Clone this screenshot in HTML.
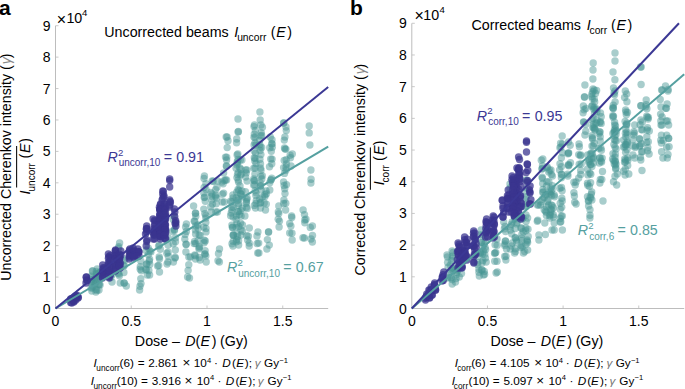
<!DOCTYPE html><html><head><meta charset="utf-8"><style>
html,body{margin:0;padding:0;background:#fff;width:685px;height:389px;overflow:hidden}
svg{display:block}
text{font-family:"Liberation Sans", sans-serif}
.t{font-size:14px}
.s{font-size:10px}
.f{font-size:11px}
.i{font-style:italic}
.bold{font-weight:bold;font-size:22px}
</style></head><body>
<svg width="685" height="389" viewBox="0 0 685 389" fill="#000">
<path d="M55.5 25.8V308.5H328.2" fill="none" stroke="#bdbdbd" stroke-width="1"/>
<path d="M55.5 308.50h3M55.5 277.08h3M55.5 245.66h3M55.5 214.24h3M55.5 182.82h3M55.5 151.40h3M55.5 119.98h3M55.5 88.56h3M55.5 57.14h3M55.5 25.72h3M131.25 308.5v-3M207.00 308.5v-3M282.75 308.5v-3" fill="none" stroke="#bdbdbd" stroke-width="0.8"/>
<text x="50.5" y="313.50" text-anchor="end" class="t">0</text>
<text x="50.5" y="282.08" text-anchor="end" class="t">1</text>
<text x="50.5" y="250.66" text-anchor="end" class="t">2</text>
<text x="50.5" y="219.24" text-anchor="end" class="t">3</text>
<text x="50.5" y="187.82" text-anchor="end" class="t">4</text>
<text x="50.5" y="156.40" text-anchor="end" class="t">5</text>
<text x="50.5" y="124.98" text-anchor="end" class="t">6</text>
<text x="50.5" y="93.56" text-anchor="end" class="t">7</text>
<text x="50.5" y="62.14" text-anchor="end" class="t">8</text>
<text x="50.5" y="30.72" text-anchor="end" class="t">9</text>
<text x="55.50" y="325.6" text-anchor="middle" class="t">0</text>
<text x="131.25" y="325.6" text-anchor="middle" class="t">0.5</text>
<text x="207.00" y="325.6" text-anchor="middle" class="t">1</text>
<text x="282.75" y="325.6" text-anchor="middle" class="t">1.5</text>
<path d="M411.8 23.4V308.5H684.2" fill="none" stroke="#bdbdbd" stroke-width="1"/>
<path d="M411.8 308.50h3M411.8 276.81h3M411.8 245.12h3M411.8 213.43h3M411.8 181.74h3M411.8 150.05h3M411.8 118.36h3M411.8 86.67h3M411.8 54.98h3M411.8 23.29h3M487.45 308.5v-3M563.10 308.5v-3M638.75 308.5v-3" fill="none" stroke="#bdbdbd" stroke-width="0.8"/>
<text x="406.8" y="313.50" text-anchor="end" class="t">0</text>
<text x="406.8" y="281.81" text-anchor="end" class="t">1</text>
<text x="406.8" y="250.12" text-anchor="end" class="t">2</text>
<text x="406.8" y="218.43" text-anchor="end" class="t">3</text>
<text x="406.8" y="186.74" text-anchor="end" class="t">4</text>
<text x="406.8" y="155.05" text-anchor="end" class="t">5</text>
<text x="406.8" y="123.36" text-anchor="end" class="t">6</text>
<text x="406.8" y="91.67" text-anchor="end" class="t">7</text>
<text x="406.8" y="59.98" text-anchor="end" class="t">8</text>
<text x="406.8" y="28.29" text-anchor="end" class="t">9</text>
<text x="411.80" y="325.6" text-anchor="middle" class="t">0</text>
<text x="487.45" y="325.6" text-anchor="middle" class="t">0.5</text>
<text x="563.10" y="325.6" text-anchor="middle" class="t">1</text>
<text x="638.75" y="325.6" text-anchor="middle" class="t">1.5</text>
<g fill="#469492" fill-opacity="0.47"><circle cx="92.4" cy="271.0" r="3.7"/><circle cx="91.8" cy="291.0" r="3.7"/><circle cx="92.7" cy="271.0" r="3.7"/><circle cx="91.1" cy="276.1" r="3.7"/><circle cx="91.3" cy="277.8" r="3.7"/><circle cx="93.0" cy="281.3" r="3.7"/><circle cx="91.7" cy="279.8" r="3.7"/><circle cx="91.4" cy="281.7" r="3.7"/><circle cx="92.7" cy="286.2" r="3.7"/><circle cx="92.3" cy="287.8" r="3.7"/><circle cx="91.2" cy="288.0" r="3.7"/><circle cx="97.2" cy="269.0" r="3.7"/><circle cx="95.9" cy="292.0" r="3.7"/><circle cx="96.3" cy="271.4" r="3.7"/><circle cx="96.9" cy="274.1" r="3.7"/><circle cx="96.4" cy="273.5" r="3.7"/><circle cx="95.1" cy="278.2" r="3.7"/><circle cx="96.2" cy="277.4" r="3.7"/><circle cx="96.3" cy="280.7" r="3.7"/><circle cx="95.2" cy="281.4" r="3.7"/><circle cx="95.0" cy="284.1" r="3.7"/><circle cx="96.9" cy="290.4" r="3.7"/><circle cx="96.0" cy="289.4" r="3.7"/><circle cx="100.8" cy="272.0" r="3.7"/><circle cx="99.0" cy="290.0" r="3.7"/><circle cx="99.5" cy="272.5" r="3.7"/><circle cx="98.9" cy="276.8" r="3.7"/><circle cx="100.6" cy="277.8" r="3.7"/><circle cx="99.1" cy="284.3" r="3.7"/><circle cx="100.1" cy="284.9" r="3.7"/><circle cx="99.0" cy="284.8" r="3.7"/><circle cx="111.9" cy="262.0" r="3.7"/><circle cx="112.0" cy="282.0" r="3.7"/><circle cx="111.8" cy="266.7" r="3.7"/><circle cx="112.3" cy="274.4" r="3.7"/><circle cx="110.8" cy="277.5" r="3.7"/><circle cx="119.6" cy="243.0" r="3.7"/><circle cx="120.3" cy="283.0" r="3.7"/><circle cx="118.8" cy="246.7" r="3.7"/><circle cx="118.5" cy="248.3" r="3.7"/><circle cx="119.2" cy="258.8" r="3.7"/><circle cx="120.3" cy="263.6" r="3.7"/><circle cx="118.3" cy="258.5" r="3.7"/><circle cx="118.4" cy="263.3" r="3.7"/><circle cx="118.1" cy="273.1" r="3.7"/><circle cx="119.4" cy="275.7" r="3.7"/><circle cx="118.9" cy="274.0" r="3.7"/><circle cx="124.3" cy="259.0" r="3.7"/><circle cx="126.3" cy="286.0" r="3.7"/><circle cx="124.6" cy="260.4" r="3.7"/><circle cx="124.3" cy="265.6" r="3.7"/><circle cx="123.6" cy="265.9" r="3.7"/><circle cx="123.9" cy="272.5" r="3.7"/><circle cx="124.1" cy="283.1" r="3.7"/><circle cx="124.2" cy="283.0" r="3.7"/><circle cx="140.8" cy="261.0" r="3.7"/><circle cx="139.6" cy="290.0" r="3.7"/><circle cx="140.2" cy="269.2" r="3.7"/><circle cx="140.3" cy="266.7" r="3.7"/><circle cx="141.3" cy="270.7" r="3.7"/><circle cx="140.8" cy="278.7" r="3.7"/><circle cx="140.0" cy="286.2" r="3.7"/><circle cx="141.0" cy="283.6" r="3.7"/><circle cx="148.2" cy="248.0" r="3.7"/><circle cx="147.3" cy="275.0" r="3.7"/><circle cx="146.2" cy="250.5" r="3.7"/><circle cx="148.3" cy="254.6" r="3.7"/><circle cx="146.9" cy="264.2" r="3.7"/><circle cx="146.5" cy="263.9" r="3.7"/><circle cx="146.3" cy="270.0" r="3.7"/><circle cx="145.8" cy="269.3" r="3.7"/><circle cx="150.1" cy="251.0" r="3.7"/><circle cx="149.6" cy="275.0" r="3.7"/><circle cx="150.9" cy="251.9" r="3.7"/><circle cx="149.3" cy="261.0" r="3.7"/><circle cx="149.6" cy="259.3" r="3.7"/><circle cx="149.8" cy="264.5" r="3.7"/><circle cx="148.9" cy="270.5" r="3.7"/><circle cx="159.4" cy="245.0" r="3.7"/><circle cx="159.5" cy="272.0" r="3.7"/><circle cx="158.6" cy="246.1" r="3.7"/><circle cx="160.3" cy="249.2" r="3.7"/><circle cx="159.5" cy="258.8" r="3.7"/><circle cx="159.2" cy="256.9" r="3.7"/><circle cx="157.6" cy="266.0" r="3.7"/><circle cx="158.7" cy="265.4" r="3.7"/><circle cx="168.3" cy="238.0" r="3.7"/><circle cx="167.1" cy="264.0" r="3.7"/><circle cx="165.8" cy="239.5" r="3.7"/><circle cx="168.1" cy="245.1" r="3.7"/><circle cx="166.8" cy="253.3" r="3.7"/><circle cx="168.4" cy="256.4" r="3.7"/><circle cx="168.1" cy="252.3" r="3.7"/><circle cx="168.0" cy="262.0" r="3.7"/><circle cx="174.1" cy="216.0" r="3.7"/><circle cx="173.4" cy="262.0" r="3.7"/><circle cx="175.4" cy="224.1" r="3.7"/><circle cx="173.2" cy="219.4" r="3.7"/><circle cx="174.5" cy="230.4" r="3.7"/><circle cx="174.4" cy="229.4" r="3.7"/><circle cx="172.5" cy="231.5" r="3.7"/><circle cx="175.5" cy="237.8" r="3.7"/><circle cx="173.2" cy="243.7" r="3.7"/><circle cx="175.5" cy="241.7" r="3.7"/><circle cx="175.3" cy="250.0" r="3.7"/><circle cx="175.2" cy="257.2" r="3.7"/><circle cx="175.1" cy="258.1" r="3.7"/><circle cx="186.4" cy="224.0" r="3.7"/><circle cx="185.9" cy="252.0" r="3.7"/><circle cx="185.6" cy="226.9" r="3.7"/><circle cx="186.4" cy="231.4" r="3.7"/><circle cx="185.1" cy="234.4" r="3.7"/><circle cx="186.0" cy="244.5" r="3.7"/><circle cx="184.8" cy="239.1" r="3.7"/><circle cx="186.2" cy="244.2" r="3.7"/><circle cx="188.8" cy="257.0" r="3.7"/><circle cx="189.5" cy="278.0" r="3.7"/><circle cx="190.4" cy="257.0" r="3.7"/><circle cx="188.8" cy="264.7" r="3.7"/><circle cx="188.1" cy="270.4" r="3.7"/><circle cx="187.6" cy="277.0" r="3.7"/><circle cx="193.6" cy="206.0" r="3.7"/><circle cx="195.5" cy="259.0" r="3.7"/><circle cx="195.6" cy="213.3" r="3.7"/><circle cx="195.4" cy="213.3" r="3.7"/><circle cx="195.8" cy="216.3" r="3.7"/><circle cx="194.8" cy="221.3" r="3.7"/><circle cx="194.2" cy="221.2" r="3.7"/><circle cx="195.7" cy="226.0" r="3.7"/><circle cx="195.4" cy="229.9" r="3.7"/><circle cx="195.6" cy="233.9" r="3.7"/><circle cx="194.1" cy="243.6" r="3.7"/><circle cx="194.6" cy="241.4" r="3.7"/><circle cx="195.6" cy="243.6" r="3.7"/><circle cx="194.7" cy="255.0" r="3.7"/><circle cx="195.3" cy="255.8" r="3.7"/><circle cx="197.9" cy="225.0" r="3.7"/><circle cx="200.1" cy="260.0" r="3.7"/><circle cx="198.3" cy="228.6" r="3.7"/><circle cx="200.2" cy="235.4" r="3.7"/><circle cx="199.1" cy="235.1" r="3.7"/><circle cx="198.0" cy="240.5" r="3.7"/><circle cx="199.1" cy="247.8" r="3.7"/><circle cx="199.5" cy="246.4" r="3.7"/><circle cx="199.0" cy="248.9" r="3.7"/><circle cx="199.4" cy="257.5" r="3.7"/><circle cx="204.4" cy="176.0" r="3.7"/><circle cx="206.2" cy="262.0" r="3.7"/><circle cx="204.0" cy="178.4" r="3.7"/><circle cx="204.1" cy="187.4" r="3.7"/><circle cx="205.9" cy="183.7" r="3.7"/><circle cx="203.8" cy="193.1" r="3.7"/><circle cx="206.0" cy="189.5" r="3.7"/><circle cx="204.2" cy="197.6" r="3.7"/><circle cx="204.7" cy="197.0" r="3.7"/><circle cx="205.3" cy="201.2" r="3.7"/><circle cx="203.8" cy="209.1" r="3.7"/><circle cx="205.8" cy="215.6" r="3.7"/><circle cx="204.8" cy="213.6" r="3.7"/><circle cx="205.8" cy="218.1" r="3.7"/><circle cx="205.8" cy="222.4" r="3.7"/><circle cx="203.7" cy="227.1" r="3.7"/><circle cx="206.0" cy="228.4" r="3.7"/><circle cx="206.0" cy="231.9" r="3.7"/><circle cx="204.2" cy="240.2" r="3.7"/><circle cx="205.3" cy="241.0" r="3.7"/><circle cx="204.1" cy="242.7" r="3.7"/><circle cx="205.1" cy="250.6" r="3.7"/><circle cx="205.8" cy="255.9" r="3.7"/><circle cx="204.6" cy="254.2" r="3.7"/><circle cx="205.1" cy="253.9" r="3.7"/><circle cx="212.2" cy="181.0" r="3.7"/><circle cx="211.2" cy="212.0" r="3.7"/><circle cx="213.2" cy="181.2" r="3.7"/><circle cx="210.8" cy="192.4" r="3.7"/><circle cx="211.9" cy="193.9" r="3.7"/><circle cx="211.9" cy="199.8" r="3.7"/><circle cx="211.7" cy="196.2" r="3.7"/><circle cx="210.7" cy="206.7" r="3.7"/><circle cx="212.5" cy="204.0" r="3.7"/><circle cx="217.8" cy="181.0" r="3.7"/><circle cx="217.4" cy="212.0" r="3.7"/><circle cx="215.6" cy="189.6" r="3.7"/><circle cx="216.9" cy="187.3" r="3.7"/><circle cx="215.5" cy="196.6" r="3.7"/><circle cx="215.7" cy="194.9" r="3.7"/><circle cx="216.6" cy="198.1" r="3.7"/><circle cx="216.2" cy="203.8" r="3.7"/><circle cx="215.8" cy="212.0" r="3.7"/><circle cx="219.5" cy="249.0" r="3.7"/><circle cx="219.4" cy="262.0" r="3.7"/><circle cx="218.5" cy="253.5" r="3.7"/><circle cx="218.0" cy="260.8" r="3.7"/><circle cx="223.6" cy="173.0" r="3.7"/><circle cx="224.3" cy="202.0" r="3.7"/><circle cx="222.0" cy="182.1" r="3.7"/><circle cx="224.3" cy="180.5" r="3.7"/><circle cx="223.1" cy="183.7" r="3.7"/><circle cx="223.6" cy="193.1" r="3.7"/><circle cx="222.4" cy="194.3" r="3.7"/><circle cx="222.2" cy="202.0" r="3.7"/><circle cx="226.6" cy="160.0" r="3.7"/><circle cx="226.3" cy="166.0" r="3.7"/><circle cx="232.9" cy="195.0" r="3.7"/><circle cx="232.9" cy="246.0" r="3.7"/><circle cx="230.5" cy="201.2" r="3.7"/><circle cx="233.0" cy="197.9" r="3.7"/><circle cx="231.8" cy="201.6" r="3.7"/><circle cx="232.0" cy="207.3" r="3.7"/><circle cx="233.3" cy="207.0" r="3.7"/><circle cx="231.9" cy="209.9" r="3.7"/><circle cx="231.2" cy="213.0" r="3.7"/><circle cx="230.6" cy="215.7" r="3.7"/><circle cx="233.2" cy="216.9" r="3.7"/><circle cx="231.9" cy="225.1" r="3.7"/><circle cx="232.6" cy="227.3" r="3.7"/><circle cx="232.4" cy="227.6" r="3.7"/><circle cx="233.4" cy="234.8" r="3.7"/><circle cx="233.3" cy="235.1" r="3.7"/><circle cx="233.3" cy="235.4" r="3.7"/><circle cx="232.0" cy="243.8" r="3.7"/><circle cx="233.2" cy="241.2" r="3.7"/><circle cx="236.7" cy="139.0" r="3.7"/><circle cx="237.8" cy="154.0" r="3.7"/><circle cx="236.6" cy="142.7" r="3.7"/><circle cx="237.1" cy="155.0" r="3.7"/><circle cx="238.6" cy="245.0" r="3.7"/><circle cx="237.4" cy="161.5" r="3.7"/><circle cx="238.2" cy="159.5" r="3.7"/><circle cx="237.2" cy="163.1" r="3.7"/><circle cx="237.1" cy="165.0" r="3.7"/><circle cx="236.1" cy="168.2" r="3.7"/><circle cx="238.2" cy="172.7" r="3.7"/><circle cx="236.9" cy="177.6" r="3.7"/><circle cx="237.5" cy="174.6" r="3.7"/><circle cx="238.2" cy="179.9" r="3.7"/><circle cx="238.5" cy="182.1" r="3.7"/><circle cx="238.8" cy="190.4" r="3.7"/><circle cx="238.0" cy="189.4" r="3.7"/><circle cx="236.7" cy="192.3" r="3.7"/><circle cx="238.8" cy="198.9" r="3.7"/><circle cx="236.2" cy="197.7" r="3.7"/><circle cx="237.2" cy="200.6" r="3.7"/><circle cx="238.8" cy="203.6" r="3.7"/><circle cx="238.5" cy="205.3" r="3.7"/><circle cx="237.8" cy="211.7" r="3.7"/><circle cx="238.6" cy="211.5" r="3.7"/><circle cx="236.5" cy="216.0" r="3.7"/><circle cx="236.1" cy="219.4" r="3.7"/><circle cx="236.9" cy="223.8" r="3.7"/><circle cx="238.8" cy="226.5" r="3.7"/><circle cx="236.1" cy="227.4" r="3.7"/><circle cx="237.0" cy="233.9" r="3.7"/><circle cx="237.5" cy="236.8" r="3.7"/><circle cx="236.6" cy="239.6" r="3.7"/><circle cx="238.6" cy="240.8" r="3.7"/><circle cx="236.3" cy="241.8" r="3.7"/><circle cx="226.2" cy="137.0" r="3.7"/><circle cx="226.6" cy="180.0" r="3.7"/><circle cx="227.1" cy="137.0" r="3.7"/><circle cx="226.7" cy="157.2" r="3.7"/><circle cx="227.2" cy="147.6" r="3.7"/><circle cx="225.5" cy="157.1" r="3.7"/><circle cx="226.6" cy="166.3" r="3.7"/><circle cx="225.5" cy="179.9" r="3.7"/><circle cx="238.0" cy="119.0" r="3.7"/><circle cx="238.1" cy="132.0" r="3.7"/><circle cx="238.4" cy="131.5" r="3.7"/><circle cx="228.0" cy="140.8" r="3.7"/><circle cx="241.9" cy="160.0" r="3.7"/><circle cx="241.0" cy="235.0" r="3.7"/><circle cx="240.3" cy="160.0" r="3.7"/><circle cx="240.9" cy="169.3" r="3.7"/><circle cx="239.6" cy="167.8" r="3.7"/><circle cx="241.5" cy="174.0" r="3.7"/><circle cx="240.5" cy="175.0" r="3.7"/><circle cx="240.0" cy="186.0" r="3.7"/><circle cx="241.9" cy="191.0" r="3.7"/><circle cx="241.1" cy="194.3" r="3.7"/><circle cx="240.4" cy="193.7" r="3.7"/><circle cx="242.3" cy="196.9" r="3.7"/><circle cx="242.3" cy="208.2" r="3.7"/><circle cx="240.8" cy="210.6" r="3.7"/><circle cx="241.1" cy="216.1" r="3.7"/><circle cx="239.5" cy="214.4" r="3.7"/><circle cx="240.6" cy="223.1" r="3.7"/><circle cx="242.5" cy="225.0" r="3.7"/><circle cx="241.0" cy="230.0" r="3.7"/><circle cx="242.5" cy="231.2" r="3.7"/><circle cx="245.7" cy="170.0" r="3.7"/><circle cx="244.9" cy="216.0" r="3.7"/><circle cx="246.9" cy="170.0" r="3.7"/><circle cx="246.1" cy="172.9" r="3.7"/><circle cx="245.6" cy="177.1" r="3.7"/><circle cx="247.1" cy="181.1" r="3.7"/><circle cx="245.4" cy="191.7" r="3.7"/><circle cx="247.1" cy="197.9" r="3.7"/><circle cx="246.7" cy="199.4" r="3.7"/><circle cx="246.4" cy="201.7" r="3.7"/><circle cx="246.3" cy="203.3" r="3.7"/><circle cx="246.4" cy="207.2" r="3.7"/><circle cx="247.2" cy="208.5" r="3.7"/><circle cx="249.3" cy="228.0" r="3.7"/><circle cx="249.2" cy="246.0" r="3.7"/><circle cx="248.4" cy="236.2" r="3.7"/><circle cx="246.8" cy="235.7" r="3.7"/><circle cx="249.2" cy="243.1" r="3.7"/><circle cx="247.6" cy="240.0" r="3.7"/><circle cx="254.5" cy="125.0" r="3.7"/><circle cx="255.5" cy="208.0" r="3.7"/><circle cx="254.0" cy="126.6" r="3.7"/><circle cx="254.3" cy="134.1" r="3.7"/><circle cx="255.4" cy="130.5" r="3.7"/><circle cx="255.1" cy="137.5" r="3.7"/><circle cx="254.0" cy="137.3" r="3.7"/><circle cx="254.1" cy="144.9" r="3.7"/><circle cx="255.0" cy="142.9" r="3.7"/><circle cx="256.1" cy="145.0" r="3.7"/><circle cx="254.1" cy="150.7" r="3.7"/><circle cx="255.6" cy="153.3" r="3.7"/><circle cx="255.1" cy="158.4" r="3.7"/><circle cx="254.3" cy="157.7" r="3.7"/><circle cx="254.7" cy="160.7" r="3.7"/><circle cx="256.0" cy="163.5" r="3.7"/><circle cx="253.8" cy="168.3" r="3.7"/><circle cx="255.1" cy="168.1" r="3.7"/><circle cx="254.9" cy="174.1" r="3.7"/><circle cx="253.8" cy="178.9" r="3.7"/><circle cx="254.7" cy="180.8" r="3.7"/><circle cx="254.0" cy="180.4" r="3.7"/><circle cx="254.7" cy="185.0" r="3.7"/><circle cx="253.6" cy="184.9" r="3.7"/><circle cx="255.2" cy="190.6" r="3.7"/><circle cx="255.9" cy="195.6" r="3.7"/><circle cx="256.1" cy="192.8" r="3.7"/><circle cx="256.3" cy="200.5" r="3.7"/><circle cx="254.3" cy="205.4" r="3.7"/><circle cx="255.9" cy="203.5" r="3.7"/><circle cx="259.9" cy="112.0" r="3.7"/><circle cx="260.2" cy="120.0" r="3.7"/><circle cx="257.9" cy="232.0" r="3.7"/><circle cx="258.9" cy="253.0" r="3.7"/><circle cx="257.0" cy="235.9" r="3.7"/><circle cx="258.7" cy="243.1" r="3.7"/><circle cx="257.1" cy="243.5" r="3.7"/><circle cx="257.7" cy="253.0" r="3.7"/><circle cx="260.9" cy="125.0" r="3.7"/><circle cx="260.5" cy="208.0" r="3.7"/><circle cx="262.4" cy="127.2" r="3.7"/><circle cx="261.2" cy="132.8" r="3.7"/><circle cx="261.6" cy="135.2" r="3.7"/><circle cx="260.8" cy="135.9" r="3.7"/><circle cx="259.8" cy="144.6" r="3.7"/><circle cx="259.8" cy="140.3" r="3.7"/><circle cx="260.2" cy="147.2" r="3.7"/><circle cx="261.7" cy="147.5" r="3.7"/><circle cx="260.1" cy="150.5" r="3.7"/><circle cx="260.9" cy="154.6" r="3.7"/><circle cx="260.5" cy="163.8" r="3.7"/><circle cx="259.9" cy="159.3" r="3.7"/><circle cx="260.6" cy="168.3" r="3.7"/><circle cx="261.0" cy="170.3" r="3.7"/><circle cx="262.3" cy="175.7" r="3.7"/><circle cx="261.8" cy="179.0" r="3.7"/><circle cx="260.8" cy="176.1" r="3.7"/><circle cx="260.4" cy="186.0" r="3.7"/><circle cx="260.2" cy="182.7" r="3.7"/><circle cx="260.6" cy="185.7" r="3.7"/><circle cx="261.1" cy="189.9" r="3.7"/><circle cx="262.4" cy="196.9" r="3.7"/><circle cx="259.7" cy="199.0" r="3.7"/><circle cx="260.1" cy="203.2" r="3.7"/><circle cx="260.7" cy="202.4" r="3.7"/><circle cx="266.0" cy="191.0" r="3.7"/><circle cx="265.5" cy="210.0" r="3.7"/><circle cx="264.9" cy="194.7" r="3.7"/><circle cx="266.5" cy="193.8" r="3.7"/><circle cx="265.0" cy="196.6" r="3.7"/><circle cx="266.3" cy="204.1" r="3.7"/><circle cx="264.2" cy="202.9" r="3.7"/><circle cx="268.5" cy="232.0" r="3.7"/><circle cx="266.9" cy="249.0" r="3.7"/><circle cx="268.6" cy="232.0" r="3.7"/><circle cx="267.4" cy="239.6" r="3.7"/><circle cx="269.3" cy="245.1" r="3.7"/><circle cx="270.3" cy="137.0" r="3.7"/><circle cx="269.8" cy="190.0" r="3.7"/><circle cx="271.9" cy="143.7" r="3.7"/><circle cx="272.3" cy="147.3" r="3.7"/><circle cx="271.9" cy="143.9" r="3.7"/><circle cx="269.7" cy="147.8" r="3.7"/><circle cx="271.3" cy="151.3" r="3.7"/><circle cx="272.1" cy="159.1" r="3.7"/><circle cx="270.7" cy="158.9" r="3.7"/><circle cx="271.8" cy="163.8" r="3.7"/><circle cx="269.5" cy="166.7" r="3.7"/><circle cx="271.1" cy="179.7" r="3.7"/><circle cx="271.7" cy="178.3" r="3.7"/><circle cx="270.8" cy="180.1" r="3.7"/><circle cx="269.8" cy="182.8" r="3.7"/><circle cx="272.0" cy="139.8" r="3.7"/><circle cx="278.8" cy="206.0" r="3.7"/><circle cx="279.1" cy="227.0" r="3.7"/><circle cx="278.8" cy="213.6" r="3.7"/><circle cx="278.3" cy="212.0" r="3.7"/><circle cx="279.5" cy="221.1" r="3.7"/><circle cx="278.2" cy="219.2" r="3.7"/><circle cx="283.7" cy="123.0" r="3.7"/><circle cx="285.6" cy="210.0" r="3.7"/><circle cx="283.8" cy="123.0" r="3.7"/><circle cx="286.0" cy="127.0" r="3.7"/><circle cx="286.3" cy="130.6" r="3.7"/><circle cx="284.3" cy="140.1" r="3.7"/><circle cx="284.9" cy="137.0" r="3.7"/><circle cx="285.9" cy="149.1" r="3.7"/><circle cx="285.0" cy="149.1" r="3.7"/><circle cx="284.5" cy="147.9" r="3.7"/><circle cx="286.2" cy="159.8" r="3.7"/><circle cx="286.5" cy="163.9" r="3.7"/><circle cx="284.2" cy="160.4" r="3.7"/><circle cx="286.0" cy="167.1" r="3.7"/><circle cx="283.6" cy="167.6" r="3.7"/><circle cx="286.0" cy="170.3" r="3.7"/><circle cx="284.5" cy="173.4" r="3.7"/><circle cx="286.5" cy="184.6" r="3.7"/><circle cx="283.6" cy="182.0" r="3.7"/><circle cx="284.1" cy="185.5" r="3.7"/><circle cx="284.7" cy="188.8" r="3.7"/><circle cx="285.0" cy="193.5" r="3.7"/><circle cx="285.8" cy="203.3" r="3.7"/><circle cx="283.9" cy="200.0" r="3.7"/><circle cx="283.7" cy="203.4" r="3.7"/><circle cx="292.3" cy="154.0" r="3.7"/><circle cx="291.0" cy="166.0" r="3.7"/><circle cx="290.1" cy="155.3" r="3.7"/><circle cx="290.5" cy="157.8" r="3.7"/><circle cx="291.6" cy="216.0" r="3.7"/><circle cx="292.2" cy="240.0" r="3.7"/><circle cx="291.8" cy="217.5" r="3.7"/><circle cx="289.7" cy="223.5" r="3.7"/><circle cx="290.9" cy="226.1" r="3.7"/><circle cx="292.0" cy="233.3" r="3.7"/><circle cx="289.7" cy="233.0" r="3.7"/><circle cx="303.1" cy="210.0" r="3.7"/><circle cx="304.4" cy="238.0" r="3.7"/><circle cx="304.8" cy="220.0" r="3.7"/><circle cx="304.5" cy="214.6" r="3.7"/><circle cx="306.0" cy="219.2" r="3.7"/><circle cx="304.8" cy="222.7" r="3.7"/><circle cx="303.0" cy="237.7" r="3.7"/><circle cx="309.2" cy="126.0" r="3.7"/><circle cx="309.9" cy="145.0" r="3.7"/><circle cx="309.2" cy="132.9" r="3.7"/><circle cx="310.9" cy="170.0" r="3.7"/><circle cx="310.9" cy="183.0" r="3.7"/><circle cx="311.1" cy="179.3" r="3.7"/><circle cx="312.4" cy="226.0" r="3.7"/><circle cx="312.4" cy="242.0" r="3.7"/><circle cx="310.3" cy="227.4" r="3.7"/><circle cx="312.5" cy="235.5" r="3.7"/><circle cx="311.0" cy="239.0" r="3.7"/></g>
<g fill="#3a358f" fill-opacity="0.74"><circle cx="71.2" cy="299.0" r="3.7"/><circle cx="71.7" cy="303.0" r="3.7"/><circle cx="70.6" cy="299.0" r="3.7"/><circle cx="70.6" cy="302.4" r="3.7"/><circle cx="73.2" cy="298.0" r="3.7"/><circle cx="73.8" cy="302.0" r="3.7"/><circle cx="73.3" cy="300.1" r="3.7"/><circle cx="73.9" cy="301.2" r="3.7"/><circle cx="76.6" cy="296.0" r="3.7"/><circle cx="75.8" cy="300.0" r="3.7"/><circle cx="75.6" cy="296.0" r="3.7"/><circle cx="76.5" cy="297.7" r="3.7"/><circle cx="77.4" cy="295.5" r="3.7"/><circle cx="78.1" cy="298.0" r="3.7"/><circle cx="78.3" cy="297.2" r="3.7"/><circle cx="86.4" cy="277.0" r="3.7"/><circle cx="86.0" cy="283.0" r="3.7"/><circle cx="86.2" cy="277.2" r="3.7"/><circle cx="87.5" cy="280.6" r="3.7"/><circle cx="86.5" cy="280.0" r="3.7"/><circle cx="102.7" cy="265.0" r="3.7"/><circle cx="102.5" cy="278.0" r="3.7"/><circle cx="104.0" cy="268.3" r="3.7"/><circle cx="103.3" cy="267.7" r="3.7"/><circle cx="102.7" cy="269.7" r="3.7"/><circle cx="103.2" cy="272.2" r="3.7"/><circle cx="102.7" cy="272.9" r="3.7"/><circle cx="103.9" cy="272.2" r="3.7"/><circle cx="103.3" cy="275.4" r="3.7"/><circle cx="102.5" cy="277.1" r="3.7"/><circle cx="108.4" cy="254.0" r="3.7"/><circle cx="109.3" cy="278.0" r="3.7"/><circle cx="108.8" cy="256.7" r="3.7"/><circle cx="110.3" cy="255.4" r="3.7"/><circle cx="110.5" cy="257.6" r="3.7"/><circle cx="108.4" cy="258.2" r="3.7"/><circle cx="108.5" cy="262.4" r="3.7"/><circle cx="109.9" cy="261.5" r="3.7"/><circle cx="109.6" cy="264.6" r="3.7"/><circle cx="108.2" cy="264.4" r="3.7"/><circle cx="109.9" cy="267.4" r="3.7"/><circle cx="110.5" cy="269.7" r="3.7"/><circle cx="109.2" cy="270.6" r="3.7"/><circle cx="109.0" cy="271.8" r="3.7"/><circle cx="109.6" cy="273.4" r="3.7"/><circle cx="110.5" cy="274.8" r="3.7"/><circle cx="108.8" cy="276.9" r="3.7"/><circle cx="115.5" cy="250.0" r="3.7"/><circle cx="115.1" cy="271.0" r="3.7"/><circle cx="115.3" cy="250.7" r="3.7"/><circle cx="115.4" cy="251.8" r="3.7"/><circle cx="115.5" cy="255.0" r="3.7"/><circle cx="116.7" cy="255.9" r="3.7"/><circle cx="115.5" cy="256.5" r="3.7"/><circle cx="115.5" cy="258.6" r="3.7"/><circle cx="116.2" cy="258.7" r="3.7"/><circle cx="116.8" cy="261.3" r="3.7"/><circle cx="115.6" cy="265.4" r="3.7"/><circle cx="116.5" cy="265.3" r="3.7"/><circle cx="115.7" cy="265.7" r="3.7"/><circle cx="116.1" cy="269.7" r="3.7"/><circle cx="116.2" cy="268.9" r="3.7"/><circle cx="120.8" cy="251.0" r="3.7"/><circle cx="120.2" cy="268.0" r="3.7"/><circle cx="119.5" cy="254.3" r="3.7"/><circle cx="120.9" cy="255.1" r="3.7"/><circle cx="119.9" cy="255.7" r="3.7"/><circle cx="119.7" cy="258.6" r="3.7"/><circle cx="119.5" cy="258.2" r="3.7"/><circle cx="119.2" cy="259.8" r="3.7"/><circle cx="119.4" cy="263.7" r="3.7"/><circle cx="120.4" cy="263.5" r="3.7"/><circle cx="119.3" cy="266.0" r="3.7"/><circle cx="119.5" cy="265.7" r="3.7"/><circle cx="129.9" cy="249.0" r="3.7"/><circle cx="129.3" cy="259.0" r="3.7"/><circle cx="129.4" cy="250.2" r="3.7"/><circle cx="129.3" cy="252.0" r="3.7"/><circle cx="130.5" cy="252.8" r="3.7"/><circle cx="129.3" cy="255.8" r="3.7"/><circle cx="130.3" cy="255.2" r="3.7"/><circle cx="129.4" cy="257.1" r="3.7"/><circle cx="133.1" cy="248.0" r="3.7"/><circle cx="133.8" cy="258.0" r="3.7"/><circle cx="133.5" cy="250.0" r="3.7"/><circle cx="133.9" cy="251.4" r="3.7"/><circle cx="134.9" cy="251.7" r="3.7"/><circle cx="134.7" cy="255.3" r="3.7"/><circle cx="133.1" cy="255.7" r="3.7"/><circle cx="134.4" cy="256.8" r="3.7"/><circle cx="137.9" cy="249.0" r="3.7"/><circle cx="139.0" cy="256.0" r="3.7"/><circle cx="138.7" cy="252.0" r="3.7"/><circle cx="138.7" cy="252.0" r="3.7"/><circle cx="138.9" cy="251.7" r="3.7"/><circle cx="137.1" cy="255.9" r="3.7"/><circle cx="146.7" cy="226.0" r="3.7"/><circle cx="145.5" cy="234.0" r="3.7"/><circle cx="146.4" cy="228.8" r="3.7"/><circle cx="147.1" cy="228.4" r="3.7"/><circle cx="146.5" cy="229.3" r="3.7"/><circle cx="146.6" cy="231.9" r="3.7"/><circle cx="147.0" cy="240.0" r="3.7"/><circle cx="146.2" cy="246.0" r="3.7"/><circle cx="146.7" cy="241.4" r="3.7"/><circle cx="153.1" cy="219.0" r="3.7"/><circle cx="153.3" cy="239.0" r="3.7"/><circle cx="154.9" cy="221.1" r="3.7"/><circle cx="154.6" cy="220.1" r="3.7"/><circle cx="154.4" cy="225.6" r="3.7"/><circle cx="154.9" cy="224.1" r="3.7"/><circle cx="154.0" cy="228.6" r="3.7"/><circle cx="154.7" cy="229.9" r="3.7"/><circle cx="153.9" cy="231.4" r="3.7"/><circle cx="154.8" cy="232.7" r="3.7"/><circle cx="153.1" cy="232.4" r="3.7"/><circle cx="153.9" cy="234.2" r="3.7"/><circle cx="154.2" cy="235.3" r="3.7"/><circle cx="154.6" cy="239.0" r="3.7"/><circle cx="160.5" cy="204.0" r="3.7"/><circle cx="160.3" cy="239.0" r="3.7"/><circle cx="160.4" cy="205.0" r="3.7"/><circle cx="159.4" cy="207.2" r="3.7"/><circle cx="159.7" cy="209.5" r="3.7"/><circle cx="160.4" cy="208.9" r="3.7"/><circle cx="159.8" cy="209.5" r="3.7"/><circle cx="160.2" cy="210.2" r="3.7"/><circle cx="159.9" cy="214.3" r="3.7"/><circle cx="160.5" cy="214.3" r="3.7"/><circle cx="159.7" cy="215.3" r="3.7"/><circle cx="160.0" cy="217.0" r="3.7"/><circle cx="160.7" cy="217.0" r="3.7"/><circle cx="159.6" cy="218.6" r="3.7"/><circle cx="159.4" cy="220.0" r="3.7"/><circle cx="160.3" cy="221.3" r="3.7"/><circle cx="159.3" cy="224.7" r="3.7"/><circle cx="160.7" cy="223.9" r="3.7"/><circle cx="159.5" cy="224.7" r="3.7"/><circle cx="160.8" cy="228.6" r="3.7"/><circle cx="160.1" cy="228.8" r="3.7"/><circle cx="159.3" cy="228.3" r="3.7"/><circle cx="160.0" cy="231.8" r="3.7"/><circle cx="160.4" cy="233.1" r="3.7"/><circle cx="160.0" cy="234.3" r="3.7"/><circle cx="160.3" cy="236.0" r="3.7"/><circle cx="159.7" cy="236.2" r="3.7"/><circle cx="160.9" cy="236.8" r="3.7"/><circle cx="164.2" cy="204.0" r="3.7"/><circle cx="165.7" cy="239.0" r="3.7"/><circle cx="164.5" cy="204.2" r="3.7"/><circle cx="164.8" cy="207.6" r="3.7"/><circle cx="165.2" cy="206.3" r="3.7"/><circle cx="164.2" cy="209.2" r="3.7"/><circle cx="165.5" cy="209.0" r="3.7"/><circle cx="164.9" cy="210.5" r="3.7"/><circle cx="165.5" cy="213.4" r="3.7"/><circle cx="165.5" cy="215.7" r="3.7"/><circle cx="164.2" cy="215.0" r="3.7"/><circle cx="165.6" cy="216.6" r="3.7"/><circle cx="165.6" cy="218.2" r="3.7"/><circle cx="164.5" cy="219.9" r="3.7"/><circle cx="165.2" cy="220.3" r="3.7"/><circle cx="164.4" cy="221.6" r="3.7"/><circle cx="165.1" cy="224.6" r="3.7"/><circle cx="165.5" cy="224.9" r="3.7"/><circle cx="164.8" cy="225.5" r="3.7"/><circle cx="165.1" cy="228.4" r="3.7"/><circle cx="164.3" cy="230.3" r="3.7"/><circle cx="165.7" cy="229.7" r="3.7"/><circle cx="165.3" cy="229.6" r="3.7"/><circle cx="165.7" cy="231.9" r="3.7"/><circle cx="164.2" cy="235.2" r="3.7"/><circle cx="165.5" cy="234.0" r="3.7"/><circle cx="164.2" cy="235.4" r="3.7"/><circle cx="165.1" cy="238.7" r="3.7"/><circle cx="162.8" cy="191.0" r="3.7"/><circle cx="162.1" cy="200.0" r="3.7"/><circle cx="163.3" cy="191.4" r="3.7"/><circle cx="163.9" cy="195.6" r="3.7"/><circle cx="162.7" cy="194.0" r="3.7"/><circle cx="163.8" cy="196.9" r="3.7"/><circle cx="162.7" cy="198.4" r="3.7"/><circle cx="169.7" cy="179.0" r="3.7"/><circle cx="169.7" cy="187.0" r="3.7"/><circle cx="169.7" cy="180.6" r="3.7"/><circle cx="169.6" cy="200.0" r="3.7"/><circle cx="169.7" cy="207.0" r="3.7"/><circle cx="170.4" cy="202.4" r="3.7"/><circle cx="170.1" cy="201.4" r="3.7"/><circle cx="169.8" cy="205.0" r="3.7"/><circle cx="174.4" cy="209.0" r="3.7"/><circle cx="175.9" cy="226.0" r="3.7"/><circle cx="174.8" cy="211.9" r="3.7"/><circle cx="174.7" cy="216.7" r="3.7"/><circle cx="175.6" cy="220.6" r="3.7"/><circle cx="175.1" cy="223.4" r="3.7"/><circle cx="175.9" cy="222.6" r="3.7"/></g>
<g fill="#469492" fill-opacity="0.47"><circle cx="452.1" cy="251.0" r="3.7"/><circle cx="452.2" cy="284.0" r="3.7"/><circle cx="452.3" cy="256.1" r="3.7"/><circle cx="451.3" cy="260.5" r="3.7"/><circle cx="452.6" cy="258.2" r="3.7"/><circle cx="453.0" cy="268.5" r="3.7"/><circle cx="450.3" cy="264.9" r="3.7"/><circle cx="451.6" cy="272.3" r="3.7"/><circle cx="452.9" cy="270.6" r="3.7"/><circle cx="452.2" cy="279.6" r="3.7"/><circle cx="451.3" cy="277.7" r="3.7"/><circle cx="447.0" cy="255.0" r="3.7"/><circle cx="447.5" cy="278.0" r="3.7"/><circle cx="447.4" cy="256.9" r="3.7"/><circle cx="448.1" cy="267.2" r="3.7"/><circle cx="447.6" cy="262.4" r="3.7"/><circle cx="449.2" cy="272.9" r="3.7"/><circle cx="449.3" cy="277.6" r="3.7"/><circle cx="453.8" cy="268.0" r="3.7"/><circle cx="455.5" cy="282.0" r="3.7"/><circle cx="455.9" cy="269.8" r="3.7"/><circle cx="456.0" cy="278.6" r="3.7"/><circle cx="456.5" cy="274.6" r="3.7"/><circle cx="458.7" cy="264.0" r="3.7"/><circle cx="459.3" cy="277.0" r="3.7"/><circle cx="456.8" cy="272.4" r="3.7"/><circle cx="458.0" cy="270.0" r="3.7"/><circle cx="453.0" cy="252.5" r="3.7"/><circle cx="461.5" cy="273.5" r="3.7"/><circle cx="480.0" cy="253.0" r="3.7"/><circle cx="479.3" cy="276.0" r="3.7"/><circle cx="478.6" cy="256.6" r="3.7"/><circle cx="477.7" cy="262.4" r="3.7"/><circle cx="478.9" cy="269.2" r="3.7"/><circle cx="477.8" cy="264.7" r="3.7"/><circle cx="478.9" cy="272.2" r="3.7"/><circle cx="481.2" cy="230.0" r="3.7"/><circle cx="481.6" cy="270.0" r="3.7"/><circle cx="480.7" cy="234.6" r="3.7"/><circle cx="481.9" cy="235.7" r="3.7"/><circle cx="481.4" cy="242.6" r="3.7"/><circle cx="481.8" cy="242.5" r="3.7"/><circle cx="482.8" cy="246.4" r="3.7"/><circle cx="480.6" cy="252.9" r="3.7"/><circle cx="483.5" cy="251.2" r="3.7"/><circle cx="482.6" cy="253.9" r="3.7"/><circle cx="482.9" cy="260.6" r="3.7"/><circle cx="482.1" cy="262.8" r="3.7"/><circle cx="482.2" cy="269.9" r="3.7"/><circle cx="485.4" cy="241.0" r="3.7"/><circle cx="483.6" cy="275.0" r="3.7"/><circle cx="484.3" cy="243.9" r="3.7"/><circle cx="485.1" cy="247.5" r="3.7"/><circle cx="485.6" cy="249.6" r="3.7"/><circle cx="484.8" cy="254.2" r="3.7"/><circle cx="485.4" cy="257.9" r="3.7"/><circle cx="486.2" cy="262.1" r="3.7"/><circle cx="484.3" cy="271.4" r="3.7"/><circle cx="484.6" cy="274.2" r="3.7"/><circle cx="497.0" cy="239.0" r="3.7"/><circle cx="496.1" cy="273.0" r="3.7"/><circle cx="497.2" cy="245.3" r="3.7"/><circle cx="495.1" cy="244.8" r="3.7"/><circle cx="495.8" cy="252.5" r="3.7"/><circle cx="495.0" cy="253.1" r="3.7"/><circle cx="494.6" cy="253.2" r="3.7"/><circle cx="497.0" cy="261.3" r="3.7"/><circle cx="494.7" cy="261.2" r="3.7"/><circle cx="497.3" cy="272.0" r="3.7"/><circle cx="503.7" cy="222.0" r="3.7"/><circle cx="505.9" cy="260.0" r="3.7"/><circle cx="505.0" cy="226.4" r="3.7"/><circle cx="505.6" cy="231.6" r="3.7"/><circle cx="504.3" cy="228.9" r="3.7"/><circle cx="505.5" cy="241.2" r="3.7"/><circle cx="504.9" cy="243.9" r="3.7"/><circle cx="505.4" cy="240.9" r="3.7"/><circle cx="504.7" cy="245.5" r="3.7"/><circle cx="506.5" cy="248.9" r="3.7"/><circle cx="506.0" cy="256.2" r="3.7"/><circle cx="504.7" cy="256.5" r="3.7"/><circle cx="512.1" cy="222.0" r="3.7"/><circle cx="510.2" cy="249.0" r="3.7"/><circle cx="511.4" cy="224.3" r="3.7"/><circle cx="510.2" cy="226.6" r="3.7"/><circle cx="510.4" cy="230.1" r="3.7"/><circle cx="511.7" cy="233.7" r="3.7"/><circle cx="511.3" cy="246.0" r="3.7"/><circle cx="512.3" cy="243.0" r="3.7"/><circle cx="515.0" cy="218.0" r="3.7"/><circle cx="514.6" cy="253.0" r="3.7"/><circle cx="515.0" cy="219.0" r="3.7"/><circle cx="517.0" cy="222.5" r="3.7"/><circle cx="516.7" cy="223.9" r="3.7"/><circle cx="515.2" cy="228.4" r="3.7"/><circle cx="515.2" cy="237.9" r="3.7"/><circle cx="515.4" cy="237.6" r="3.7"/><circle cx="516.5" cy="240.1" r="3.7"/><circle cx="516.7" cy="242.1" r="3.7"/><circle cx="515.2" cy="248.8" r="3.7"/><circle cx="515.5" cy="251.4" r="3.7"/><circle cx="523.0" cy="218.0" r="3.7"/><circle cx="523.4" cy="253.0" r="3.7"/><circle cx="522.0" cy="219.0" r="3.7"/><circle cx="521.5" cy="228.1" r="3.7"/><circle cx="520.8" cy="228.0" r="3.7"/><circle cx="521.8" cy="234.4" r="3.7"/><circle cx="523.3" cy="231.8" r="3.7"/><circle cx="521.6" cy="238.2" r="3.7"/><circle cx="521.8" cy="240.8" r="3.7"/><circle cx="522.2" cy="247.0" r="3.7"/><circle cx="521.2" cy="245.5" r="3.7"/><circle cx="520.8" cy="247.6" r="3.7"/><circle cx="527.6" cy="218.0" r="3.7"/><circle cx="527.6" cy="250.0" r="3.7"/><circle cx="526.1" cy="221.4" r="3.7"/><circle cx="525.9" cy="228.3" r="3.7"/><circle cx="525.8" cy="230.7" r="3.7"/><circle cx="528.0" cy="229.2" r="3.7"/><circle cx="528.2" cy="236.4" r="3.7"/><circle cx="527.1" cy="240.0" r="3.7"/><circle cx="527.3" cy="241.1" r="3.7"/><circle cx="527.6" cy="242.4" r="3.7"/><circle cx="526.0" cy="244.3" r="3.7"/><circle cx="524.7" cy="251.5" r="3.7"/><circle cx="510.0" cy="184.0" r="3.7"/><circle cx="510.0" cy="188.0" r="3.7"/><circle cx="526.0" cy="180.0" r="3.7"/><circle cx="526.0" cy="215.0" r="3.7"/><circle cx="526.9" cy="180.5" r="3.7"/><circle cx="526.0" cy="191.3" r="3.7"/><circle cx="526.8" cy="188.0" r="3.7"/><circle cx="526.5" cy="196.7" r="3.7"/><circle cx="526.7" cy="203.4" r="3.7"/><circle cx="525.7" cy="199.0" r="3.7"/><circle cx="525.2" cy="207.1" r="3.7"/><circle cx="526.3" cy="206.1" r="3.7"/><circle cx="538.5" cy="205.0" r="3.7"/><circle cx="538.9" cy="240.0" r="3.7"/><circle cx="537.4" cy="205.0" r="3.7"/><circle cx="537.3" cy="221.3" r="3.7"/><circle cx="537.8" cy="220.2" r="3.7"/><circle cx="538.9" cy="234.9" r="3.7"/><circle cx="542.8" cy="159.0" r="3.7"/><circle cx="540.5" cy="205.0" r="3.7"/><circle cx="541.3" cy="160.3" r="3.7"/><circle cx="542.5" cy="165.8" r="3.7"/><circle cx="542.2" cy="168.5" r="3.7"/><circle cx="542.0" cy="169.1" r="3.7"/><circle cx="542.1" cy="177.1" r="3.7"/><circle cx="542.4" cy="178.5" r="3.7"/><circle cx="542.7" cy="183.5" r="3.7"/><circle cx="543.0" cy="189.5" r="3.7"/><circle cx="542.8" cy="192.4" r="3.7"/><circle cx="543.2" cy="192.0" r="3.7"/><circle cx="542.2" cy="199.3" r="3.7"/><circle cx="541.0" cy="201.8" r="3.7"/><circle cx="545.5" cy="195.0" r="3.7"/><circle cx="544.8" cy="223.0" r="3.7"/><circle cx="544.1" cy="197.6" r="3.7"/><circle cx="546.4" cy="206.8" r="3.7"/><circle cx="544.2" cy="209.8" r="3.7"/><circle cx="546.3" cy="212.2" r="3.7"/><circle cx="545.4" cy="211.1" r="3.7"/><circle cx="546.4" cy="215.5" r="3.7"/><circle cx="545.4" cy="234.5" r="3.7"/><circle cx="547.3" cy="167.0" r="3.7"/><circle cx="548.7" cy="205.0" r="3.7"/><circle cx="546.9" cy="167.8" r="3.7"/><circle cx="548.7" cy="171.9" r="3.7"/><circle cx="548.9" cy="182.0" r="3.7"/><circle cx="546.9" cy="181.6" r="3.7"/><circle cx="546.5" cy="186.0" r="3.7"/><circle cx="549.2" cy="192.2" r="3.7"/><circle cx="547.1" cy="194.6" r="3.7"/><circle cx="548.1" cy="199.6" r="3.7"/><circle cx="547.4" cy="201.4" r="3.7"/><circle cx="551.0" cy="170.0" r="3.7"/><circle cx="549.8" cy="218.0" r="3.7"/><circle cx="549.6" cy="170.2" r="3.7"/><circle cx="551.4" cy="174.4" r="3.7"/><circle cx="552.4" cy="176.1" r="3.7"/><circle cx="552.4" cy="185.7" r="3.7"/><circle cx="550.8" cy="188.2" r="3.7"/><circle cx="551.1" cy="191.6" r="3.7"/><circle cx="552.1" cy="189.5" r="3.7"/><circle cx="550.3" cy="194.1" r="3.7"/><circle cx="551.7" cy="195.5" r="3.7"/><circle cx="551.3" cy="204.9" r="3.7"/><circle cx="550.8" cy="209.2" r="3.7"/><circle cx="550.7" cy="212.1" r="3.7"/><circle cx="550.0" cy="214.5" r="3.7"/><circle cx="549.9" cy="215.7" r="3.7"/><circle cx="554.2" cy="195.0" r="3.7"/><circle cx="554.2" cy="230.0" r="3.7"/><circle cx="554.5" cy="196.8" r="3.7"/><circle cx="553.4" cy="207.7" r="3.7"/><circle cx="551.6" cy="209.9" r="3.7"/><circle cx="552.3" cy="205.6" r="3.7"/><circle cx="553.5" cy="217.0" r="3.7"/><circle cx="553.3" cy="214.7" r="3.7"/><circle cx="554.2" cy="223.0" r="3.7"/><circle cx="552.0" cy="230.0" r="3.7"/><circle cx="562.2" cy="136.0" r="3.7"/><circle cx="562.4" cy="230.0" r="3.7"/><circle cx="560.6" cy="143.2" r="3.7"/><circle cx="562.3" cy="144.0" r="3.7"/><circle cx="559.9" cy="147.7" r="3.7"/><circle cx="560.9" cy="146.9" r="3.7"/><circle cx="562.5" cy="152.7" r="3.7"/><circle cx="561.4" cy="157.8" r="3.7"/><circle cx="560.0" cy="163.7" r="3.7"/><circle cx="561.4" cy="166.6" r="3.7"/><circle cx="559.6" cy="169.9" r="3.7"/><circle cx="561.7" cy="174.1" r="3.7"/><circle cx="561.3" cy="174.4" r="3.7"/><circle cx="561.4" cy="177.8" r="3.7"/><circle cx="561.5" cy="187.5" r="3.7"/><circle cx="559.8" cy="188.2" r="3.7"/><circle cx="562.1" cy="190.8" r="3.7"/><circle cx="561.8" cy="198.2" r="3.7"/><circle cx="562.2" cy="200.9" r="3.7"/><circle cx="560.2" cy="203.2" r="3.7"/><circle cx="560.2" cy="209.2" r="3.7"/><circle cx="561.7" cy="207.2" r="3.7"/><circle cx="562.3" cy="215.9" r="3.7"/><circle cx="561.2" cy="216.3" r="3.7"/><circle cx="560.2" cy="218.5" r="3.7"/><circle cx="560.8" cy="221.8" r="3.7"/><circle cx="560.2" cy="222.1" r="3.7"/><circle cx="568.5" cy="142.0" r="3.7"/><circle cx="567.9" cy="176.0" r="3.7"/><circle cx="570.2" cy="145.3" r="3.7"/><circle cx="568.7" cy="152.9" r="3.7"/><circle cx="568.0" cy="153.8" r="3.7"/><circle cx="568.4" cy="153.0" r="3.7"/><circle cx="570.5" cy="162.7" r="3.7"/><circle cx="568.6" cy="165.7" r="3.7"/><circle cx="568.9" cy="164.9" r="3.7"/><circle cx="568.3" cy="164.8" r="3.7"/><circle cx="567.7" cy="174.1" r="3.7"/><circle cx="576.0" cy="182.0" r="3.7"/><circle cx="576.1" cy="204.0" r="3.7"/><circle cx="573.9" cy="182.2" r="3.7"/><circle cx="575.2" cy="185.1" r="3.7"/><circle cx="573.9" cy="192.6" r="3.7"/><circle cx="574.4" cy="196.0" r="3.7"/><circle cx="574.7" cy="202.3" r="3.7"/><circle cx="579.0" cy="144.0" r="3.7"/><circle cx="578.7" cy="178.0" r="3.7"/><circle cx="579.4" cy="146.7" r="3.7"/><circle cx="580.8" cy="154.9" r="3.7"/><circle cx="578.7" cy="154.6" r="3.7"/><circle cx="580.3" cy="155.8" r="3.7"/><circle cx="581.2" cy="163.9" r="3.7"/><circle cx="579.2" cy="164.3" r="3.7"/><circle cx="580.7" cy="174.4" r="3.7"/><circle cx="580.7" cy="170.4" r="3.7"/><circle cx="584.9" cy="85.0" r="3.7"/><circle cx="584.6" cy="97.0" r="3.7"/><circle cx="584.4" cy="97.0" r="3.7"/><circle cx="583.4" cy="106.0" r="3.7"/><circle cx="584.9" cy="135.0" r="3.7"/><circle cx="585.9" cy="108.4" r="3.7"/><circle cx="584.1" cy="109.7" r="3.7"/><circle cx="583.1" cy="112.7" r="3.7"/><circle cx="583.5" cy="121.9" r="3.7"/><circle cx="583.9" cy="122.1" r="3.7"/><circle cx="585.7" cy="124.5" r="3.7"/><circle cx="585.8" cy="131.2" r="3.7"/><circle cx="587.6" cy="155.0" r="3.7"/><circle cx="589.9" cy="218.0" r="3.7"/><circle cx="589.3" cy="159.7" r="3.7"/><circle cx="589.2" cy="161.4" r="3.7"/><circle cx="588.6" cy="162.2" r="3.7"/><circle cx="589.8" cy="173.1" r="3.7"/><circle cx="587.6" cy="168.9" r="3.7"/><circle cx="588.0" cy="174.9" r="3.7"/><circle cx="587.5" cy="183.2" r="3.7"/><circle cx="589.4" cy="186.5" r="3.7"/><circle cx="587.7" cy="185.3" r="3.7"/><circle cx="587.5" cy="196.8" r="3.7"/><circle cx="590.1" cy="197.2" r="3.7"/><circle cx="588.4" cy="201.3" r="3.7"/><circle cx="588.6" cy="200.6" r="3.7"/><circle cx="590.0" cy="209.7" r="3.7"/><circle cx="588.6" cy="206.0" r="3.7"/><circle cx="590.0" cy="215.3" r="3.7"/><circle cx="590.3" cy="154.0" r="3.7"/><circle cx="591.9" cy="200.0" r="3.7"/><circle cx="590.9" cy="164.5" r="3.7"/><circle cx="591.6" cy="158.5" r="3.7"/><circle cx="590.4" cy="164.6" r="3.7"/><circle cx="591.9" cy="166.6" r="3.7"/><circle cx="590.8" cy="174.2" r="3.7"/><circle cx="590.6" cy="182.7" r="3.7"/><circle cx="591.7" cy="192.0" r="3.7"/><circle cx="591.3" cy="194.3" r="3.7"/><circle cx="590.8" cy="198.0" r="3.7"/><circle cx="593.2" cy="63.0" r="3.7"/><circle cx="592.9" cy="79.0" r="3.7"/><circle cx="593.0" cy="70.0" r="3.7"/><circle cx="593.0" cy="89.0" r="3.7"/><circle cx="593.3" cy="163.0" r="3.7"/><circle cx="592.8" cy="91.8" r="3.7"/><circle cx="591.9" cy="93.9" r="3.7"/><circle cx="591.7" cy="96.4" r="3.7"/><circle cx="592.4" cy="98.6" r="3.7"/><circle cx="592.4" cy="105.4" r="3.7"/><circle cx="594.1" cy="107.2" r="3.7"/><circle cx="591.7" cy="106.5" r="3.7"/><circle cx="593.7" cy="109.3" r="3.7"/><circle cx="594.4" cy="113.8" r="3.7"/><circle cx="593.1" cy="118.2" r="3.7"/><circle cx="592.0" cy="120.3" r="3.7"/><circle cx="593.3" cy="124.2" r="3.7"/><circle cx="594.3" cy="127.5" r="3.7"/><circle cx="592.7" cy="127.3" r="3.7"/><circle cx="593.7" cy="128.5" r="3.7"/><circle cx="592.1" cy="135.7" r="3.7"/><circle cx="592.3" cy="137.7" r="3.7"/><circle cx="592.6" cy="139.0" r="3.7"/><circle cx="593.3" cy="145.9" r="3.7"/><circle cx="594.3" cy="143.3" r="3.7"/><circle cx="592.0" cy="145.9" r="3.7"/><circle cx="591.6" cy="152.6" r="3.7"/><circle cx="592.3" cy="153.6" r="3.7"/><circle cx="593.4" cy="158.4" r="3.7"/><circle cx="593.5" cy="157.1" r="3.7"/><circle cx="600.5" cy="113.0" r="3.7"/><circle cx="599.3" cy="163.0" r="3.7"/><circle cx="601.2" cy="116.7" r="3.7"/><circle cx="600.4" cy="121.6" r="3.7"/><circle cx="599.9" cy="122.8" r="3.7"/><circle cx="601.2" cy="123.4" r="3.7"/><circle cx="599.2" cy="133.6" r="3.7"/><circle cx="599.4" cy="131.6" r="3.7"/><circle cx="600.2" cy="132.1" r="3.7"/><circle cx="600.2" cy="136.8" r="3.7"/><circle cx="600.2" cy="140.9" r="3.7"/><circle cx="598.8" cy="148.2" r="3.7"/><circle cx="600.8" cy="147.9" r="3.7"/><circle cx="601.4" cy="150.2" r="3.7"/><circle cx="599.6" cy="158.0" r="3.7"/><circle cx="601.0" cy="161.0" r="3.7"/><circle cx="600.2" cy="158.0" r="3.7"/><circle cx="599.9" cy="183.0" r="3.7"/><circle cx="602.2" cy="158.1" r="3.7"/><circle cx="601.6" cy="162.1" r="3.7"/><circle cx="602.5" cy="171.5" r="3.7"/><circle cx="600.3" cy="179.4" r="3.7"/><circle cx="601.8" cy="179.5" r="3.7"/><circle cx="594.2" cy="90.0" r="3.7"/><circle cx="594.9" cy="130.0" r="3.7"/><circle cx="596.6" cy="90.5" r="3.7"/><circle cx="595.5" cy="93.4" r="3.7"/><circle cx="594.3" cy="99.1" r="3.7"/><circle cx="594.7" cy="102.0" r="3.7"/><circle cx="596.7" cy="109.0" r="3.7"/><circle cx="595.2" cy="109.4" r="3.7"/><circle cx="597.0" cy="111.8" r="3.7"/><circle cx="596.9" cy="120.0" r="3.7"/><circle cx="595.8" cy="123.1" r="3.7"/><circle cx="596.6" cy="122.9" r="3.7"/><circle cx="595.1" cy="129.1" r="3.7"/><circle cx="615.0" cy="53.0" r="3.7"/><circle cx="615.0" cy="61.0" r="3.7"/><circle cx="613.0" cy="72.0" r="3.7"/><circle cx="613.5" cy="88.0" r="3.7"/><circle cx="614.9" cy="79.8" r="3.7"/><circle cx="615.0" cy="91.0" r="3.7"/><circle cx="615.1" cy="165.0" r="3.7"/><circle cx="614.6" cy="94.8" r="3.7"/><circle cx="614.0" cy="93.3" r="3.7"/><circle cx="615.1" cy="102.0" r="3.7"/><circle cx="613.3" cy="105.2" r="3.7"/><circle cx="613.3" cy="108.6" r="3.7"/><circle cx="612.9" cy="107.6" r="3.7"/><circle cx="613.1" cy="108.3" r="3.7"/><circle cx="612.8" cy="115.8" r="3.7"/><circle cx="613.1" cy="117.3" r="3.7"/><circle cx="613.5" cy="116.1" r="3.7"/><circle cx="614.6" cy="122.3" r="3.7"/><circle cx="615.5" cy="126.0" r="3.7"/><circle cx="614.4" cy="130.0" r="3.7"/><circle cx="614.6" cy="131.8" r="3.7"/><circle cx="614.1" cy="132.3" r="3.7"/><circle cx="612.9" cy="133.5" r="3.7"/><circle cx="614.7" cy="136.0" r="3.7"/><circle cx="614.3" cy="139.4" r="3.7"/><circle cx="613.9" cy="144.4" r="3.7"/><circle cx="615.0" cy="147.1" r="3.7"/><circle cx="615.3" cy="153.9" r="3.7"/><circle cx="613.0" cy="153.6" r="3.7"/><circle cx="612.6" cy="158.9" r="3.7"/><circle cx="613.6" cy="160.6" r="3.7"/><circle cx="614.2" cy="163.7" r="3.7"/><circle cx="614.7" cy="125.0" r="3.7"/><circle cx="616.7" cy="185.0" r="3.7"/><circle cx="615.3" cy="129.0" r="3.7"/><circle cx="616.5" cy="130.9" r="3.7"/><circle cx="616.0" cy="134.5" r="3.7"/><circle cx="615.3" cy="140.4" r="3.7"/><circle cx="616.5" cy="140.7" r="3.7"/><circle cx="616.0" cy="148.9" r="3.7"/><circle cx="615.1" cy="157.1" r="3.7"/><circle cx="615.3" cy="160.9" r="3.7"/><circle cx="616.0" cy="163.9" r="3.7"/><circle cx="615.2" cy="161.7" r="3.7"/><circle cx="615.9" cy="167.9" r="3.7"/><circle cx="615.6" cy="169.0" r="3.7"/><circle cx="617.3" cy="173.9" r="3.7"/><circle cx="615.0" cy="176.2" r="3.7"/><circle cx="623.6" cy="140.0" r="3.7"/><circle cx="625.1" cy="175.0" r="3.7"/><circle cx="624.9" cy="146.8" r="3.7"/><circle cx="625.3" cy="144.4" r="3.7"/><circle cx="623.5" cy="147.0" r="3.7"/><circle cx="624.7" cy="158.9" r="3.7"/><circle cx="625.3" cy="162.1" r="3.7"/><circle cx="624.6" cy="162.3" r="3.7"/><circle cx="623.5" cy="171.2" r="3.7"/><circle cx="625.3" cy="169.0" r="3.7"/><circle cx="625.3" cy="91.0" r="3.7"/><circle cx="625.6" cy="160.0" r="3.7"/><circle cx="624.6" cy="97.5" r="3.7"/><circle cx="626.7" cy="94.0" r="3.7"/><circle cx="626.9" cy="101.7" r="3.7"/><circle cx="625.6" cy="110.0" r="3.7"/><circle cx="626.0" cy="112.0" r="3.7"/><circle cx="626.3" cy="114.7" r="3.7"/><circle cx="627.5" cy="112.4" r="3.7"/><circle cx="626.8" cy="123.3" r="3.7"/><circle cx="625.1" cy="121.5" r="3.7"/><circle cx="626.2" cy="124.6" r="3.7"/><circle cx="625.4" cy="133.2" r="3.7"/><circle cx="627.2" cy="134.4" r="3.7"/><circle cx="627.1" cy="142.9" r="3.7"/><circle cx="625.9" cy="145.0" r="3.7"/><circle cx="627.3" cy="141.5" r="3.7"/><circle cx="626.9" cy="144.8" r="3.7"/><circle cx="627.0" cy="149.7" r="3.7"/><circle cx="625.6" cy="152.3" r="3.7"/><circle cx="626.7" cy="125.0" r="3.7"/><circle cx="625.8" cy="137.0" r="3.7"/><circle cx="626.8" cy="132.4" r="3.7"/><circle cx="625.9" cy="129.5" r="3.7"/><circle cx="627.7" cy="158.0" r="3.7"/><circle cx="628.8" cy="174.0" r="3.7"/><circle cx="627.9" cy="160.2" r="3.7"/><circle cx="627.7" cy="165.4" r="3.7"/><circle cx="634.7" cy="125.0" r="3.7"/><circle cx="634.8" cy="158.0" r="3.7"/><circle cx="634.4" cy="133.1" r="3.7"/><circle cx="633.7" cy="135.1" r="3.7"/><circle cx="633.8" cy="131.8" r="3.7"/><circle cx="632.8" cy="139.7" r="3.7"/><circle cx="635.3" cy="147.5" r="3.7"/><circle cx="635.5" cy="146.0" r="3.7"/><circle cx="632.9" cy="145.9" r="3.7"/><circle cx="632.9" cy="155.0" r="3.7"/><circle cx="640.5" cy="67.0" r="3.7"/><circle cx="640.9" cy="120.0" r="3.7"/><circle cx="641.2" cy="67.0" r="3.7"/><circle cx="641.1" cy="84.5" r="3.7"/><circle cx="641.0" cy="105.8" r="3.7"/><circle cx="640.8" cy="105.8" r="3.7"/><circle cx="642.3" cy="122.0" r="3.7"/><circle cx="640.8" cy="160.0" r="3.7"/><circle cx="640.1" cy="124.7" r="3.7"/><circle cx="641.3" cy="129.5" r="3.7"/><circle cx="642.5" cy="129.9" r="3.7"/><circle cx="639.5" cy="138.7" r="3.7"/><circle cx="639.7" cy="139.1" r="3.7"/><circle cx="641.4" cy="143.8" r="3.7"/><circle cx="640.0" cy="145.4" r="3.7"/><circle cx="642.3" cy="151.4" r="3.7"/><circle cx="639.6" cy="146.5" r="3.7"/><circle cx="641.6" cy="152.0" r="3.7"/><circle cx="640.4" cy="157.3" r="3.7"/><circle cx="642.0" cy="170.5" r="3.7"/><circle cx="646.2" cy="100.0" r="3.7"/><circle cx="647.1" cy="130.0" r="3.7"/><circle cx="646.2" cy="104.8" r="3.7"/><circle cx="645.8" cy="106.7" r="3.7"/><circle cx="646.9" cy="108.7" r="3.7"/><circle cx="647.4" cy="117.3" r="3.7"/><circle cx="646.7" cy="116.2" r="3.7"/><circle cx="648.4" cy="117.5" r="3.7"/><circle cx="648.1" cy="119.1" r="3.7"/><circle cx="647.5" cy="127.7" r="3.7"/><circle cx="649.3" cy="131.0" r="3.7"/><circle cx="649.1" cy="154.0" r="3.7"/><circle cx="646.8" cy="136.8" r="3.7"/><circle cx="646.5" cy="142.5" r="3.7"/><circle cx="648.3" cy="141.8" r="3.7"/><circle cx="647.6" cy="150.7" r="3.7"/><circle cx="647.8" cy="147.6" r="3.7"/><circle cx="661.6" cy="90.0" r="3.7"/><circle cx="660.8" cy="121.0" r="3.7"/><circle cx="662.3" cy="90.0" r="3.7"/><circle cx="660.2" cy="99.5" r="3.7"/><circle cx="661.0" cy="107.0" r="3.7"/><circle cx="660.6" cy="114.1" r="3.7"/><circle cx="662.1" cy="116.9" r="3.7"/><circle cx="665.5" cy="86.0" r="3.7"/><circle cx="666.3" cy="121.0" r="3.7"/><circle cx="668.2" cy="89.5" r="3.7"/><circle cx="668.0" cy="91.0" r="3.7"/><circle cx="667.1" cy="104.0" r="3.7"/><circle cx="666.4" cy="108.2" r="3.7"/><circle cx="665.7" cy="108.3" r="3.7"/><circle cx="667.7" cy="121.0" r="3.7"/><circle cx="661.9" cy="125.0" r="3.7"/><circle cx="662.9" cy="158.0" r="3.7"/><circle cx="661.0" cy="125.1" r="3.7"/><circle cx="660.8" cy="140.2" r="3.7"/><circle cx="661.4" cy="135.2" r="3.7"/><circle cx="663.3" cy="140.5" r="3.7"/><circle cx="661.4" cy="143.0" r="3.7"/><circle cx="661.6" cy="151.8" r="3.7"/><circle cx="668.6" cy="125.0" r="3.7"/><circle cx="667.3" cy="158.0" r="3.7"/><circle cx="666.7" cy="135.3" r="3.7"/><circle cx="668.6" cy="138.5" r="3.7"/><circle cx="668.6" cy="138.3" r="3.7"/><circle cx="669.1" cy="146.8" r="3.7"/><circle cx="666.7" cy="147.3" r="3.7"/><circle cx="668.0" cy="154.5" r="3.7"/><circle cx="603.0" cy="201.0" r="3.7"/><circle cx="613.5" cy="181.7" r="3.7"/></g>
<g fill="#3a358f" fill-opacity="0.74"><circle cx="426.8" cy="294.0" r="3.7"/><circle cx="425.5" cy="300.0" r="3.7"/><circle cx="426.3" cy="296.3" r="3.7"/><circle cx="425.3" cy="298.3" r="3.7"/><circle cx="426.4" cy="297.3" r="3.7"/><circle cx="428.9" cy="290.0" r="3.7"/><circle cx="429.6" cy="298.0" r="3.7"/><circle cx="429.8" cy="290.1" r="3.7"/><circle cx="428.4" cy="294.1" r="3.7"/><circle cx="429.0" cy="295.7" r="3.7"/><circle cx="429.7" cy="297.5" r="3.7"/><circle cx="431.3" cy="287.0" r="3.7"/><circle cx="432.4" cy="295.0" r="3.7"/><circle cx="432.5" cy="289.6" r="3.7"/><circle cx="431.5" cy="290.0" r="3.7"/><circle cx="431.7" cy="291.0" r="3.7"/><circle cx="431.7" cy="295.0" r="3.7"/><circle cx="434.7" cy="283.0" r="3.7"/><circle cx="435.6" cy="290.0" r="3.7"/><circle cx="434.3" cy="284.6" r="3.7"/><circle cx="434.4" cy="285.3" r="3.7"/><circle cx="435.3" cy="288.6" r="3.7"/><circle cx="435.5" cy="290.0" r="3.7"/><circle cx="443.8" cy="272.0" r="3.7"/><circle cx="442.2" cy="281.0" r="3.7"/><circle cx="443.0" cy="274.7" r="3.7"/><circle cx="442.3" cy="276.9" r="3.7"/><circle cx="442.3" cy="277.9" r="3.7"/><circle cx="443.0" cy="277.1" r="3.7"/><circle cx="443.3" cy="280.4" r="3.7"/><circle cx="458.1" cy="243.0" r="3.7"/><circle cx="457.9" cy="268.0" r="3.7"/><circle cx="459.3" cy="246.3" r="3.7"/><circle cx="458.8" cy="244.5" r="3.7"/><circle cx="460.3" cy="247.4" r="3.7"/><circle cx="458.1" cy="250.8" r="3.7"/><circle cx="458.5" cy="251.4" r="3.7"/><circle cx="457.4" cy="251.9" r="3.7"/><circle cx="458.8" cy="252.3" r="3.7"/><circle cx="458.3" cy="255.3" r="3.7"/><circle cx="458.8" cy="255.3" r="3.7"/><circle cx="460.0" cy="258.3" r="3.7"/><circle cx="457.3" cy="259.7" r="3.7"/><circle cx="460.8" cy="260.2" r="3.7"/><circle cx="459.8" cy="263.2" r="3.7"/><circle cx="460.1" cy="263.2" r="3.7"/><circle cx="459.1" cy="264.9" r="3.7"/><circle cx="459.3" cy="267.8" r="3.7"/><circle cx="462.8" cy="250.0" r="3.7"/><circle cx="461.5" cy="268.0" r="3.7"/><circle cx="462.0" cy="251.5" r="3.7"/><circle cx="462.6" cy="253.5" r="3.7"/><circle cx="462.9" cy="254.5" r="3.7"/><circle cx="462.3" cy="257.0" r="3.7"/><circle cx="462.8" cy="258.9" r="3.7"/><circle cx="463.3" cy="261.1" r="3.7"/><circle cx="462.0" cy="266.1" r="3.7"/><circle cx="462.3" cy="267.6" r="3.7"/><circle cx="464.6" cy="237.0" r="3.7"/><circle cx="467.0" cy="260.0" r="3.7"/><circle cx="464.6" cy="239.6" r="3.7"/><circle cx="467.4" cy="239.3" r="3.7"/><circle cx="466.2" cy="242.5" r="3.7"/><circle cx="466.6" cy="242.7" r="3.7"/><circle cx="464.6" cy="242.8" r="3.7"/><circle cx="467.3" cy="246.1" r="3.7"/><circle cx="466.9" cy="246.0" r="3.7"/><circle cx="464.7" cy="250.4" r="3.7"/><circle cx="465.0" cy="252.2" r="3.7"/><circle cx="464.9" cy="252.5" r="3.7"/><circle cx="466.0" cy="255.5" r="3.7"/><circle cx="464.7" cy="254.3" r="3.7"/><circle cx="467.0" cy="256.7" r="3.7"/><circle cx="466.0" cy="257.2" r="3.7"/><circle cx="473.7" cy="231.0" r="3.7"/><circle cx="475.8" cy="254.0" r="3.7"/><circle cx="473.5" cy="233.3" r="3.7"/><circle cx="474.9" cy="233.1" r="3.7"/><circle cx="473.6" cy="236.2" r="3.7"/><circle cx="473.8" cy="236.9" r="3.7"/><circle cx="475.4" cy="239.3" r="3.7"/><circle cx="474.9" cy="239.8" r="3.7"/><circle cx="476.1" cy="243.7" r="3.7"/><circle cx="473.6" cy="244.6" r="3.7"/><circle cx="473.7" cy="246.1" r="3.7"/><circle cx="472.9" cy="245.7" r="3.7"/><circle cx="473.5" cy="246.6" r="3.7"/><circle cx="476.2" cy="248.0" r="3.7"/><circle cx="474.7" cy="249.5" r="3.7"/><circle cx="474.4" cy="254.0" r="3.7"/><circle cx="474.9" cy="255.0" r="3.7"/><circle cx="473.8" cy="263.0" r="3.7"/><circle cx="473.6" cy="256.6" r="3.7"/><circle cx="473.8" cy="262.1" r="3.7"/><circle cx="486.6" cy="219.0" r="3.7"/><circle cx="487.6" cy="237.0" r="3.7"/><circle cx="485.9" cy="221.7" r="3.7"/><circle cx="486.8" cy="222.9" r="3.7"/><circle cx="486.7" cy="222.4" r="3.7"/><circle cx="487.5" cy="224.0" r="3.7"/><circle cx="486.2" cy="225.7" r="3.7"/><circle cx="485.8" cy="228.7" r="3.7"/><circle cx="487.3" cy="230.5" r="3.7"/><circle cx="487.6" cy="230.0" r="3.7"/><circle cx="486.5" cy="231.8" r="3.7"/><circle cx="486.1" cy="233.0" r="3.7"/><circle cx="485.5" cy="237.0" r="3.7"/><circle cx="493.2" cy="216.0" r="3.7"/><circle cx="492.8" cy="238.0" r="3.7"/><circle cx="494.0" cy="217.3" r="3.7"/><circle cx="493.9" cy="220.6" r="3.7"/><circle cx="492.8" cy="219.9" r="3.7"/><circle cx="492.6" cy="221.7" r="3.7"/><circle cx="492.6" cy="223.6" r="3.7"/><circle cx="494.3" cy="223.8" r="3.7"/><circle cx="494.4" cy="224.8" r="3.7"/><circle cx="493.5" cy="227.8" r="3.7"/><circle cx="493.8" cy="231.0" r="3.7"/><circle cx="494.0" cy="232.1" r="3.7"/><circle cx="492.7" cy="231.4" r="3.7"/><circle cx="493.5" cy="234.7" r="3.7"/><circle cx="493.4" cy="236.3" r="3.7"/><circle cx="494.4" cy="236.9" r="3.7"/><circle cx="502.3" cy="200.0" r="3.7"/><circle cx="503.0" cy="217.0" r="3.7"/><circle cx="502.2" cy="200.4" r="3.7"/><circle cx="503.0" cy="208.2" r="3.7"/><circle cx="503.0" cy="205.9" r="3.7"/><circle cx="503.7" cy="212.1" r="3.7"/><circle cx="503.0" cy="217.0" r="3.7"/><circle cx="508.2" cy="190.0" r="3.7"/><circle cx="508.5" cy="212.0" r="3.7"/><circle cx="508.9" cy="194.5" r="3.7"/><circle cx="507.4" cy="195.7" r="3.7"/><circle cx="507.3" cy="198.6" r="3.7"/><circle cx="507.8" cy="197.9" r="3.7"/><circle cx="508.9" cy="198.7" r="3.7"/><circle cx="507.5" cy="204.0" r="3.7"/><circle cx="508.0" cy="203.2" r="3.7"/><circle cx="507.8" cy="208.3" r="3.7"/><circle cx="507.1" cy="208.0" r="3.7"/><circle cx="516.9" cy="168.0" r="3.7"/><circle cx="520.7" cy="219.0" r="3.7"/><circle cx="518.1" cy="169.4" r="3.7"/><circle cx="518.5" cy="170.0" r="3.7"/><circle cx="520.0" cy="171.8" r="3.7"/><circle cx="519.1" cy="174.0" r="3.7"/><circle cx="519.8" cy="175.1" r="3.7"/><circle cx="518.6" cy="175.0" r="3.7"/><circle cx="517.2" cy="177.7" r="3.7"/><circle cx="519.8" cy="178.6" r="3.7"/><circle cx="516.3" cy="180.7" r="3.7"/><circle cx="519.8" cy="179.4" r="3.7"/><circle cx="520.3" cy="181.6" r="3.7"/><circle cx="516.4" cy="184.3" r="3.7"/><circle cx="515.5" cy="185.2" r="3.7"/><circle cx="521.0" cy="186.3" r="3.7"/><circle cx="516.6" cy="187.7" r="3.7"/><circle cx="518.7" cy="189.3" r="3.7"/><circle cx="517.2" cy="191.0" r="3.7"/><circle cx="516.3" cy="192.7" r="3.7"/><circle cx="517.0" cy="193.8" r="3.7"/><circle cx="515.9" cy="195.5" r="3.7"/><circle cx="520.6" cy="195.7" r="3.7"/><circle cx="520.1" cy="195.7" r="3.7"/><circle cx="520.2" cy="197.6" r="3.7"/><circle cx="516.4" cy="200.6" r="3.7"/><circle cx="517.4" cy="201.6" r="3.7"/><circle cx="516.1" cy="202.4" r="3.7"/><circle cx="520.6" cy="202.0" r="3.7"/><circle cx="521.4" cy="203.5" r="3.7"/><circle cx="521.2" cy="206.5" r="3.7"/><circle cx="520.6" cy="207.0" r="3.7"/><circle cx="519.2" cy="207.5" r="3.7"/><circle cx="518.5" cy="211.4" r="3.7"/><circle cx="516.2" cy="210.2" r="3.7"/><circle cx="515.7" cy="213.9" r="3.7"/><circle cx="519.2" cy="214.2" r="3.7"/><circle cx="521.3" cy="216.6" r="3.7"/><circle cx="521.4" cy="217.3" r="3.7"/><circle cx="518.0" cy="216.7" r="3.7"/><circle cx="512.0" cy="176.0" r="3.7"/><circle cx="514.2" cy="216.0" r="3.7"/><circle cx="513.2" cy="177.6" r="3.7"/><circle cx="513.3" cy="180.4" r="3.7"/><circle cx="511.9" cy="179.6" r="3.7"/><circle cx="512.6" cy="182.8" r="3.7"/><circle cx="513.0" cy="183.8" r="3.7"/><circle cx="513.8" cy="184.6" r="3.7"/><circle cx="513.5" cy="185.9" r="3.7"/><circle cx="513.4" cy="186.5" r="3.7"/><circle cx="513.6" cy="188.0" r="3.7"/><circle cx="512.6" cy="190.0" r="3.7"/><circle cx="512.5" cy="194.2" r="3.7"/><circle cx="514.4" cy="195.0" r="3.7"/><circle cx="513.5" cy="193.4" r="3.7"/><circle cx="513.2" cy="197.7" r="3.7"/><circle cx="514.4" cy="196.8" r="3.7"/><circle cx="514.1" cy="200.0" r="3.7"/><circle cx="513.7" cy="202.8" r="3.7"/><circle cx="514.4" cy="204.2" r="3.7"/><circle cx="512.7" cy="205.6" r="3.7"/><circle cx="514.3" cy="207.5" r="3.7"/><circle cx="513.2" cy="207.6" r="3.7"/><circle cx="512.8" cy="206.8" r="3.7"/><circle cx="512.7" cy="209.1" r="3.7"/><circle cx="511.6" cy="212.2" r="3.7"/><circle cx="514.2" cy="213.4" r="3.7"/><circle cx="514.4" cy="216.0" r="3.7"/><circle cx="518.6" cy="157.0" r="3.7"/><circle cx="519.0" cy="168.0" r="3.7"/><circle cx="519.5" cy="159.5" r="3.7"/><circle cx="519.1" cy="168.0" r="3.7"/><circle cx="527.2" cy="164.0" r="3.7"/><circle cx="527.3" cy="182.0" r="3.7"/><circle cx="527.4" cy="164.4" r="3.7"/><circle cx="526.2" cy="172.5" r="3.7"/><circle cx="527.8" cy="170.4" r="3.7"/><circle cx="527.5" cy="180.5" r="3.7"/><circle cx="530.1" cy="186.0" r="3.7"/><circle cx="529.5" cy="204.0" r="3.7"/><circle cx="529.9" cy="192.1" r="3.7"/><circle cx="529.5" cy="189.9" r="3.7"/><circle cx="530.0" cy="192.9" r="3.7"/><circle cx="530.9" cy="199.7" r="3.7"/><circle cx="530.4" cy="204.0" r="3.7"/><circle cx="526.5" cy="141.0" r="3.7"/><circle cx="526.5" cy="152.0" r="3.7"/><circle cx="526.5" cy="142.3" r="3.7"/></g>
<line x1="55.5" y1="308.5" x2="328.20" y2="146.69" stroke="#55a0a0" stroke-width="2"/>
<line x1="55.5" y1="308.5" x2="328.20" y2="87.03" stroke="#3b3894" stroke-width="2"/>
<line x1="411.8" y1="308.5" x2="684.20" y2="74.29" stroke="#55a0a0" stroke-width="2"/>
<line x1="411.8" y1="308.5" x2="678.96" y2="23.29" stroke="#3b3894" stroke-width="2"/>
<text x="-1.03" y="15.10" font-size="21" font-weight="bold">a</text>
<text x="349.94" y="15.10" font-size="21" font-weight="bold">b</text>
<text x="56.78" y="24.50" font-size="16">×</text>
<text x="66.43" y="23.20" font-size="14.25">10</text>
<text x="81.91" y="16.30" font-size="9.6">4</text>
<text x="414.48" y="21.00" font-size="16">×</text>
<text x="423.23" y="19.70" font-size="14.25">10</text>
<text x="439.51" y="12.80" font-size="9.6">4</text>
<text x="104.33" y="36.80" font-size="14.25">Uncorrected beams</text>
<text x="234.13" y="36.80" font-size="14.25" font-style="italic">I</text>
<text x="237.13" y="40.90" font-size="10.3">uncorr</text>
<text x="270.64" y="36.80" font-size="14.25">(</text>
<text x="276.17" y="36.80" font-size="14.25" font-style="italic">E</text>
<text x="287.23" y="36.80" font-size="14.25">)</text>
<text x="471.59" y="30.20" font-size="14.25">Corrected beams</text>
<text x="586.73" y="30.20" font-size="14.25" font-style="italic">I</text>
<text x="589.49" y="34.00" font-size="10.3">corr</text>
<text x="610.94" y="30.20" font-size="14.25">(</text>
<text x="616.57" y="30.20" font-size="14.25" font-style="italic">E</text>
<text x="627.53" y="30.20" font-size="14.25">)</text>
<text transform="translate(10.80 280.67) rotate(-90)" font-size="14.25">Uncorrected Cherenkov intensity (</text>
<text transform="translate(10.80 64.19) rotate(-90)" font-size="14.25" font-style="italic" font-family="Liberation Serif, serif" fill="#8a8a8a">γ</text>
<text transform="translate(10.80 58.37) rotate(-90)" font-size="14.25">)</text>
<text transform="translate(30.40 194.47) rotate(-90)" font-size="14.25" font-style="italic">I</text>
<text transform="translate(35.00 191.45) rotate(-90)" font-size="10">uncorr</text>
<text transform="translate(30.40 158.45) rotate(-90)" font-size="14.25">(</text>
<text transform="translate(30.40 152.93) rotate(-90)" font-size="14.25" font-style="italic">E</text>
<text transform="translate(30.40 142.67) rotate(-90)" font-size="14.25">)</text>
<line x1="16.6" y1="146.1" x2="16.6" y2="187.6" stroke="#111" stroke-width="1.1"/>
<text transform="translate(364.50 275.51) rotate(-90)" font-size="14.25">Corrected Cherenkov intensity (</text>
<text transform="translate(364.50 74.28) rotate(-90)" font-size="14.25" font-style="italic" font-family="Liberation Serif, serif" fill="#8a8a8a">γ</text>
<text transform="translate(364.50 68.47) rotate(-90)" font-size="14.25">)</text>
<text transform="translate(383.90 185.37) rotate(-90)" font-size="14.25" font-style="italic">I</text>
<text transform="translate(388.80 182.40) rotate(-90)" font-size="10">corr</text>
<text transform="translate(383.90 161.05) rotate(-90)" font-size="14.25">(</text>
<text transform="translate(383.90 154.93) rotate(-90)" font-size="14.25" font-style="italic">E</text>
<text transform="translate(383.90 145.27) rotate(-90)" font-size="14.25">)</text>
<line x1="370.4" y1="147.5" x2="370.4" y2="189.7" stroke="#111" stroke-width="1.1"/>
<text x="134.86" y="346.00" font-size="14.25">Dose</text>
<text x="172.00" y="346.00" font-size="14.25">–</text>
<text x="185.17" y="346.00" font-size="14.25" font-style="italic">D</text>
<text x="195.55" y="346.00" font-size="14.25">(</text>
<text x="200.47" y="346.00" font-size="14.25" font-style="italic">E</text>
<text x="211.63" y="346.00" font-size="14.25">)</text>
<text x="220.05" y="346.00" font-size="14.25">(Gy)</text>
<text x="490.46" y="346.00" font-size="14.25">Dose</text>
<text x="527.60" y="346.00" font-size="14.25">–</text>
<text x="540.77" y="346.00" font-size="14.25" font-style="italic">D</text>
<text x="551.14" y="346.00" font-size="14.25">(</text>
<text x="556.07" y="346.00" font-size="14.25" font-style="italic">E</text>
<text x="567.23" y="346.00" font-size="14.25">)</text>
<text x="575.64" y="346.00" font-size="14.25">(Gy)</text>
<text x="93.53" y="367.10" font-size="11.75" font-style="italic">I</text>
<text x="96.36" y="371.40" font-size="8.3">uncorr</text>
<text x="119.50" y="367.10" font-size="11.75">(6)</text>
<text x="137.71" y="367.10" font-size="11.75">=</text>
<text x="148.21" y="367.10" font-size="11.75">2.861</text>
<text x="182.56" y="367.10" font-size="13.5">×</text>
<text x="193.72" y="367.10" font-size="11.75">10</text>
<text x="206.95" y="362.50" font-size="7.6">4</text>
<text x="214.09" y="367.10" font-size="11.75">·</text>
<text x="222.25" y="367.10" font-size="11.75" font-style="italic">D</text>
<text x="231.99" y="367.10" font-size="11.75">(</text>
<text x="236.15" y="367.10" font-size="11.75" font-style="italic">E</text>
<text x="244.74" y="367.10" font-size="11.75">);</text>
<text x="254.76" y="367.10" font-size="11.75" font-style="italic" font-family="Liberation Serif, serif" fill="#777">γ</text>
<text x="264.01" y="367.10" font-size="11.75">Gy</text>
<text x="279.22" y="362.50" font-size="7.6">−1</text>
<text x="90.73" y="384.50" font-size="11.75" font-style="italic">I</text>
<text x="93.46" y="388.80" font-size="8.3">uncorr</text>
<text x="116.70" y="384.50" font-size="11.75">(10)</text>
<text x="141.01" y="384.50" font-size="11.75">=</text>
<text x="151.63" y="384.50" font-size="11.75">3.916</text>
<text x="184.56" y="384.50" font-size="13.5">×</text>
<text x="196.72" y="384.50" font-size="11.75">10</text>
<text x="209.95" y="379.90" font-size="7.6">4</text>
<text x="217.59" y="384.50" font-size="11.75">·</text>
<text x="225.85" y="384.50" font-size="11.75" font-style="italic">D</text>
<text x="235.49" y="384.50" font-size="11.75">(</text>
<text x="239.25" y="384.50" font-size="11.75" font-style="italic">E</text>
<text x="248.24" y="384.50" font-size="11.75">);</text>
<text x="257.76" y="384.50" font-size="11.75" font-style="italic" font-family="Liberation Serif, serif" fill="#777">γ</text>
<text x="267.51" y="384.50" font-size="11.75">Gy</text>
<text x="282.82" y="379.90" font-size="7.6">−1</text>
<text x="454.63" y="367.10" font-size="11.75" font-style="italic">I</text>
<text x="457.17" y="371.40" font-size="8.3">corr</text>
<text x="471.19" y="367.10" font-size="11.75">(6)</text>
<text x="489.41" y="367.10" font-size="11.75">=</text>
<text x="500.26" y="367.10" font-size="11.75">4.105</text>
<text x="534.25" y="367.10" font-size="13.5">×</text>
<text x="545.42" y="367.10" font-size="11.75">10</text>
<text x="558.65" y="362.50" font-size="7.6">4</text>
<text x="565.79" y="367.10" font-size="11.75">·</text>
<text x="573.95" y="367.10" font-size="11.75" font-style="italic">D</text>
<text x="583.69" y="367.10" font-size="11.75">(</text>
<text x="587.85" y="367.10" font-size="11.75" font-style="italic">E</text>
<text x="596.44" y="367.10" font-size="11.75">);</text>
<text x="606.47" y="367.10" font-size="11.75" font-style="italic" font-family="Liberation Serif, serif" fill="#777">γ</text>
<text x="615.71" y="367.10" font-size="11.75">Gy</text>
<text x="630.92" y="362.50" font-size="7.6">−1</text>
<text x="451.83" y="384.50" font-size="11.75" font-style="italic">I</text>
<text x="453.87" y="388.80" font-size="8.3">corr</text>
<text x="468.50" y="384.50" font-size="11.75">(10)</text>
<text x="492.81" y="384.50" font-size="11.75">=</text>
<text x="503.43" y="384.50" font-size="11.75">5.097</text>
<text x="536.35" y="384.50" font-size="13.5">×</text>
<text x="548.52" y="384.50" font-size="11.75">10</text>
<text x="561.75" y="379.90" font-size="7.6">4</text>
<text x="569.39" y="384.50" font-size="11.75">·</text>
<text x="577.65" y="384.50" font-size="11.75" font-style="italic">D</text>
<text x="587.29" y="384.50" font-size="11.75">(</text>
<text x="591.05" y="384.50" font-size="11.75" font-style="italic">E</text>
<text x="600.04" y="384.50" font-size="11.75">);</text>
<text x="609.56" y="384.50" font-size="11.75" font-style="italic" font-family="Liberation Serif, serif" fill="#777">γ</text>
<text x="619.31" y="384.50" font-size="11.75">Gy</text>
<text x="634.62" y="379.90" font-size="7.6">−1</text>
<text x="107.47" y="161.80" font-size="14.25" font-style="italic" fill="#3b3894">R</text>
<text x="118.02" y="155.50" font-size="9.6" fill="#3b3894">2</text>
<text x="118.65" y="166.30" font-size="10" fill="#3b3894">uncorr,10</text>
<text x="163.69" y="161.80" font-size="14.25" fill="#3b3894">=</text>
<text x="176.23" y="161.80" font-size="14.25" fill="#3b3894">0.91</text>
<text x="227.07" y="272.20" font-size="14.25" font-style="italic" fill="#55a0a0">R</text>
<text x="237.62" y="265.90" font-size="9.6" fill="#55a0a0">2</text>
<text x="238.25" y="276.70" font-size="10" fill="#55a0a0">uncorr,10</text>
<text x="283.29" y="272.20" font-size="14.25" fill="#55a0a0">=</text>
<text x="295.83" y="272.20" font-size="14.25" fill="#55a0a0">0.67</text>
<text x="476.77" y="120.60" font-size="14.25" font-style="italic" fill="#3b3894">R</text>
<text x="487.32" y="114.30" font-size="9.6" fill="#3b3894">2</text>
<text x="488.20" y="125.10" font-size="10" fill="#3b3894">corr,10</text>
<text x="522.09" y="120.60" font-size="14.25" fill="#3b3894">=</text>
<text x="534.63" y="120.60" font-size="14.25" fill="#3b3894">0.95</text>
<text x="577.77" y="235.00" font-size="14.25" font-style="italic" fill="#55a0a0">R</text>
<text x="588.32" y="228.70" font-size="9.6" fill="#55a0a0">2</text>
<text x="589.20" y="239.50" font-size="10" fill="#55a0a0">corr,6</text>
<text x="617.49" y="235.00" font-size="14.25" fill="#55a0a0">=</text>
<text x="630.03" y="235.00" font-size="14.25" fill="#55a0a0">0.85</text>
</svg></body></html>
